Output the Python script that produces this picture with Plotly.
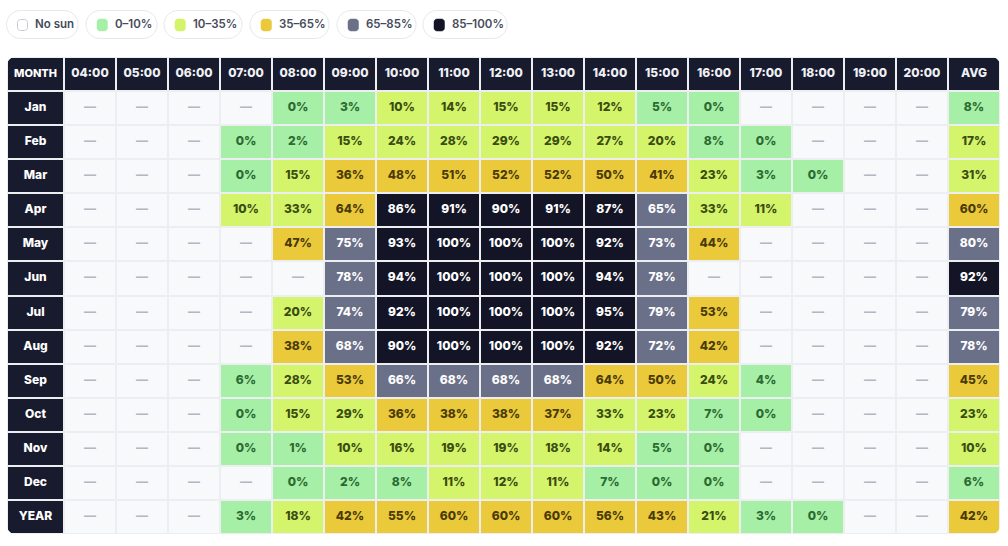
import plotly.graph_objects as go

# ---------------- data ----------------
HOURS = ["04:00", "05:00", "06:00", "07:00", "08:00", "09:00", "10:00", "11:00", "12:00",
         "13:00", "14:00", "15:00", "16:00", "17:00", "18:00", "19:00", "20:00"]
COLS = HOURS + ["AVG"]
MONTHS = ["Jan", "Feb", "Mar", "Apr", "May", "Jun", "Jul", "Aug", "Sep", "Oct", "Nov", "Dec", "YEAR"]
N = None
jan = [N, N, N, N, 0, 3, 10, 14, 15, 15, 12, 5, 0, N, N, N, N, 8]
feb = [N, N, N, 0, 2, 15, 24, 28, 29, 29, 27, 20, 8, 0, N, N, N, 17]
mar = [N, N, N, 0, 15, 36, 48, 51, 52, 52, 50, 41, 23, 3, 0, N, N, 31]
apr = [N, N, N, 10, 33, 64, 86, 91, 90, 91, 87, 65, 33, 11, N, N, N, 60]
may = [N, N, N, N, 47, 75, 93, 100, 100, 100, 92, 73, 44, N, N, N, N, 80]
jun = [N, N, N, N, N, 78, 94, 100, 100, 100, 94, 78, N, N, N, N, N, 92]
jul = [N, N, N, N, 20, 74, 92, 100, 100, 100, 95, 79, 53, N, N, N, N, 79]
aug = [N, N, N, N, 38, 68, 90, 100, 100, 100, 92, 72, 42, N, N, N, N, 78]
sep = [N, N, N, 6, 28, 53, 66, 68, 68, 68, 64, 50, 24, 4, N, N, N, 45]
oct_ = [N, N, N, 0, 15, 29, 36, 38, 38, 37, 33, 23, 7, 0, N, N, N, 23]
nov = [N, N, N, 0, 1, 10, 16, 19, 19, 18, 14, 5, 0, N, N, N, N, 10]
dec = [N, N, N, N, 0, 2, 8, 11, 12, 11, 7, 0, 0, N, N, N, N, 6]
year = [N, N, N, 3, 18, 42, 55, 60, 60, 60, 56, 43, 21, 3, 0, N, N, 42]
ROWS = [jan, feb, mar, apr, may, jun, jul, aug, sep, oct_, nov, dec, year]

LEGEND_LABELS = ["No sun", "0–10%", "10–35%", "35–65%", "65–85%", "85–100%"]

# ---------------- styles ----------------
W, H = 1008, 546
CLASS_COLORS = ["#f8f9fb", "#a6efa6", "#d3f46b", "#eac93b", "#6b7089", "#131526", "#181a2d"]
TEXT_COLORS = ["#a3a8b4", "#2c6a32", "#3b4c10", "#4a3a08", "#ffffff", "#ffffff"]
GAP_BG = "#eceef2"
FONT = "Inter"

def cls(v):
    if v is None:
        return 0
    if v < 10:
        return 1
    if v < 35:
        return 2
    if v < 65:
        return 3
    if v < 85:
        return 4
    return 5

HDR = "hdr"
YCATS = [HDR] + MONTHS

z = [[6] * len(COLS)] + [[cls(v) for v in row] for row in ROWS]
zm = [[6] for _ in YCATS]

n = len(CLASS_COLORS)
cscale = []
for i, c in enumerate(CLASS_COLORS):
    cscale.append([i / n, c])
    cscale.append([(i + 1) / n, c])

fig = go.Figure()
fig.add_trace(go.Heatmap(z=z, x=COLS, y=YCATS, colorscale=cscale, zmin=-0.5, zmax=n - 0.5,
                         showscale=False, xgap=2, ygap=2, hoverinfo="skip",
                         xaxis="x", yaxis="y"))
fig.add_trace(go.Heatmap(z=zm, x=["MONTH"], y=YCATS, colorscale=cscale, zmin=-0.5, zmax=n - 0.5,
                         showscale=False, xgap=2, ygap=2, hoverinfo="skip",
                         xaxis="x2", yaxis="y"))

# value texts
vx, vy, vt, vc = [], [], [], []
dx, dy = [], []
for m, row in zip(MONTHS, ROWS):
    for c, v in zip(COLS, row):
        if v is None:
            dx.append(c); dy.append(m)
        else:
            vx.append(c); vy.append(m); vt.append(f"{v}%"); vc.append(TEXT_COLORS[cls(v)])

fig.add_trace(go.Scatter(x=vx, y=vy, text=vt, mode="text", hoverinfo="skip",
                         textfont=dict(family=FONT, size=12, color=vc, weight=800),
                         xaxis="x", yaxis="y", showlegend=False))
fig.add_trace(go.Scatter(x=dx, y=dy, text=["—"] * len(dx), mode="text", hoverinfo="skip",
                         textfont=dict(family=FONT, size=12, color="#b3b7c1", weight=800),
                         xaxis="x", yaxis="y", showlegend=False))
# header texts
fig.add_trace(go.Scatter(x=COLS, y=[HDR] * len(COLS), text=COLS, mode="text", hoverinfo="skip",
                         textfont=dict(family=FONT, size=12, color="#eef0f5", weight=800),
                         xaxis="x", yaxis="y", showlegend=False))
fig.add_trace(go.Scatter(x=["MONTH"] * len(YCATS), y=YCATS, text=["MONTH"] + MONTHS, mode="text",
                         hoverinfo="skip",
                         textfont=dict(family=FONT, size=[11] + [12] * len(MONTHS), color="#ffffff", weight=800),
                         xaxis="x2", yaxis="y", showlegend=False))

# ---------------- layout ----------------
TL, TR, TT, TB = 7, 1000, 57, 534
MCOL = 64

def px(x):
    return x / W

def py(y):
    return 1 - y / H

axis_common = dict(showgrid=False, zeroline=False, showticklabels=False, ticks="", showline=False,
                   type="category", fixedrange=True)
fig.update_layout(
    width=W, height=H, margin=dict(l=0, r=0, t=0, b=0),
    paper_bgcolor="#ffffff", plot_bgcolor=GAP_BG, showlegend=False,
    xaxis=dict(axis_common, domain=[px(MCOL), px(TR)], categoryorder="array", categoryarray=COLS,
               range=[-0.5, len(COLS) - 0.5], anchor="y"),
    xaxis2=dict(axis_common, domain=[px(TL), px(MCOL)], range=[-0.5, 0.5], anchor="y"),
    yaxis=dict(axis_common, domain=[py(TB), py(TT)], categoryorder="array", categoryarray=YCATS,
               range=[len(YCATS) - 0.5, -0.5], anchor="x"),
)

shapes = []
annotations = []

def corner(cx, cy, sx, sy, r):
    k = 0.552 * r
    p = f"M {px(cx)},{py(cy)} L {px(cx + sx * r)},{py(cy)} "
    p += (f"C {px(cx + sx * (r - k))},{py(cy)} {px(cx)},{py(cy + sy * (r - k))} "
          f"{px(cx)},{py(cy + sy * r)} Z")
    return dict(type="path", path=p, xref="paper", yref="paper", fillcolor="#ffffff",
                line=dict(width=0), layer="above")

R = 12
shapes.append(corner(TL - 1, TT - 1, 1, 1, R))
shapes.append(corner(TR + 1, TT - 1, -1, 1, R))
shapes.append(corner(TL - 1, TB + 1, 1, -1, R))
shapes.append(corner(TR + 1, TB + 1, -1, -1, R))

def rrect(x0, y0, x1, y1, r, fill, line_color, lw):
    k = 0.552 * r
    p = (f"M {px(x0 + r)},{py(y0)} L {px(x1 - r)},{py(y0)} "
         f"C {px(x1 - r + k)},{py(y0)} {px(x1)},{py(y0 + r - k)} {px(x1)},{py(y0 + r)} "
         f"L {px(x1)},{py(y1 - r)} "
         f"C {px(x1)},{py(y1 - r + k)} {px(x1 - r + k)},{py(y1)} {px(x1 - r)},{py(y1)} "
         f"L {px(x0 + r)},{py(y1)} "
         f"C {px(x0 + r - k)},{py(y1)} {px(x0)},{py(y1 - r + k)} {px(x0)},{py(y1 - r)} "
         f"L {px(x0)},{py(y0 + r)} "
         f"C {px(x0)},{py(y0 + r - k)} {px(x0 + r - k)},{py(y0)} {px(x0 + r)},{py(y0)} Z")
    return dict(type="path", path=p, xref="paper", yref="paper", fillcolor=fill,
                line=dict(color=line_color, width=lw), layer="above")

PILLS = [(6.5, 78), (86, 157), (164, 242), (250, 329), (337, 416), (423, 507)]
for i, (lab, (x0, x1)) in enumerate(zip(LEGEND_LABELS, PILLS)):
    shapes.append(rrect(x0, 10.5, x1, 38.5, 14, "#ffffff", "#e6e8ec", 1))
    sx0 = x0 + 11
    if i == 0:
        shapes.append(rrect(sx0, 19.5, sx0 + 10, 30.5, 3, "#ffffff", "#c5c9d3", 1))
    else:
        shapes.append(rrect(sx0, 19, sx0 + 10.5, 31, 3, CLASS_COLORS[i], CLASS_COLORS[i], 0.5))
    annotations.append(dict(text=lab, x=px(sx0 + 15.5), y=py(24.5), xref="paper", yref="paper",
                            xanchor="left", yanchor="middle", showarrow=False,
                            font=dict(family=FONT, size=11.5, color="#454a5a", weight=600)))

fig.update_layout(shapes=shapes, annotations=annotations)
fig.write_html("out.html")
